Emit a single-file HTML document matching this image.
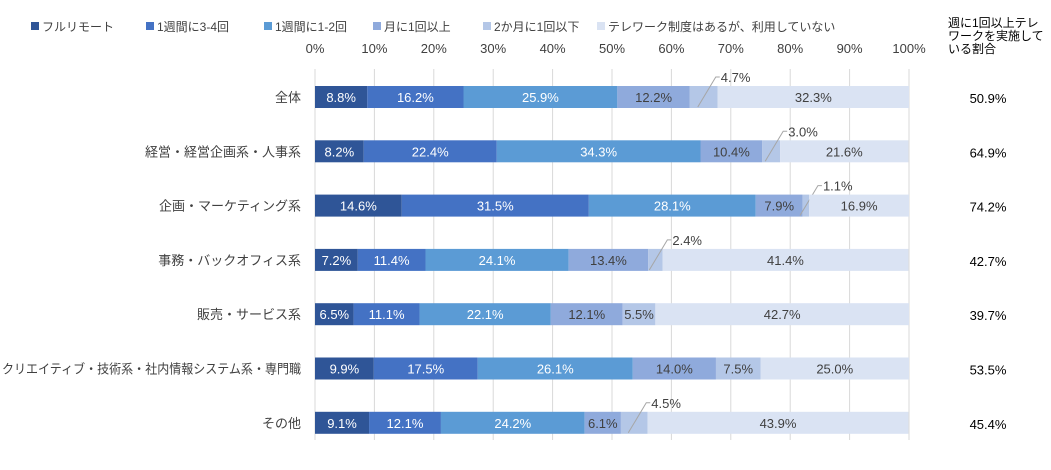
<!DOCTYPE html>
<html><head><meta charset="utf-8"><style>
body{margin:0;background:#fff;width:1051px;height:465px;overflow:hidden;font-family:"Liberation Sans","Noto Sans CJK JP",sans-serif;}
svg text{font-family:"Liberation Sans","Noto Sans CJK JP",sans-serif;}
</style></head><body>
<svg id="c" width="1051" height="465"></svg>
<script>
const categories=["全体","経営・経営企画系・人事系","企画・マーケティング系","事務・バックオフィス系","販売・サービス系","クリエイティブ・技術系・社内情報システム系・専門職","その他"];
const seriesNames=["フルリモート","1週間に3-4回","1週間に1-2回","月に1回以上","2か月に1回以下","テレワーク制度はあるが、利用していない"];
const s1=[8.8,8.2,14.6,7.2,6.5,9.9,9.1];
const s2=[16.2,22.4,31.5,11.4,11.1,17.5,12.1];
const s3=[25.9,34.3,28.1,24.1,22.1,26.1,24.2];
const s4=[12.2,10.4,7.9,13.4,12.1,14.0,6.1];
const s5=[4.7,3.0,1.1,2.4,5.5,7.5,4.5];
const s6=[32.3,21.6,16.9,41.4,42.7,25.0,43.9];
const rate=["50.9%","64.9%","74.2%","42.7%","39.7%","53.5%","45.4%"];
const ticks=[0,10,20,30,40,50,60,70,80,90,100];
const colors=["#2f5597","#4472c4","#5b9bd5","#8faadc","#b4c7e7","#dae3f3"];
const txtCol=["#fff","#fff","#fff","#404040","#404040","#404040"];
const X0=315,X1=909,Y0=97,DY=54.3,BH=22;
const x=v=>X0+(X1-X0)*v/100;
const y=i=>Y0+DY*i;
const svg=document.getElementById('c');
const NS="http://www.w3.org/2000/svg";
function mk(t,a,p){const e=document.createElementNS(NS,t);for(const k in a)e.setAttribute(k,a[k]);(p||svg).appendChild(e);return e;}
ticks.forEach(t=>{
 const l=mk('line',{x1:x(t),x2:x(t),y1:69,y2:440,stroke:'#d9d9d9','stroke-width':1});
 
 
 const tx=mk('text',{x:x(t),y:53,'text-anchor':'middle','font-size':13,fill:'#404040'});
 tx.textContent=t+'%';
 
 
});
const legX=[31,146,264,373,483,597];
seriesNames.forEach((n,k)=>{
 const g=mk('g',{});
 
 
 mk('rect',{x:legX[k],y:22,width:8,height:8,fill:colors[k]},g);
 const t=mk('text',{x:legX[k]+11,y:31,'font-size':12,fill:'#404040'},g);t.textContent=n;
});
["週に1回以上テレ","ワークを実施して","いる割合"].forEach((s,i)=>{
 const t=mk('text',{x:948,y:27+i*13,'font-size':12,fill:'#000'});t.textContent=s;
 
 
});
const series=[s1,s2,s3,s4,s5,s6];
categories.forEach((c,i)=>{
 const cy=y(i);
 const lb=mk('text',{x:301,y:cy+5,'text-anchor':'end','font-size':13,fill:'#404040'});lb.textContent=c;
 if(c.length>20){lb.setAttribute('textLength',299);lb.setAttribute('lengthAdjust','spacingAndGlyphs');}
 
 
 let acc=0;
 series.forEach((s,k)=>{
  const v=s[i];const a=x(acc),b=x(Math.min(acc+v,100));
  const r=mk('rect',{x:a,y:cy-BH/2,width:Math.max(b-a,0),height:BH,fill:colors[k]});
  
  
  const lbl=v.toFixed(1)+'%';
  if(v<5 && k===4){
   const mx=(a+b)/2;
   mk('path',{d:`M${mx-6} ${cy+10} L${mx+12} ${cy-20} L${mx+16} ${cy-20}`,stroke:'#a6a6a6',fill:'none','stroke-width':1});
   const t=mk('text',{x:mx+17,y:cy-15,'font-size':13,fill:'#404040'});t.textContent=lbl;
   
   
  }else{
   const t=mk('text',{x:(a+b)/2,y:cy+5,'text-anchor':'middle','font-size':13,fill:txtCol[k]});t.textContent=lbl;
   
   
  }
  acc+=v;
 });
 const rt=mk('text',{x:988,y:cy+6,'text-anchor':'middle','font-size':13,fill:'#000'});rt.textContent=rate[i];
 
 
});
</script>
</body></html>
